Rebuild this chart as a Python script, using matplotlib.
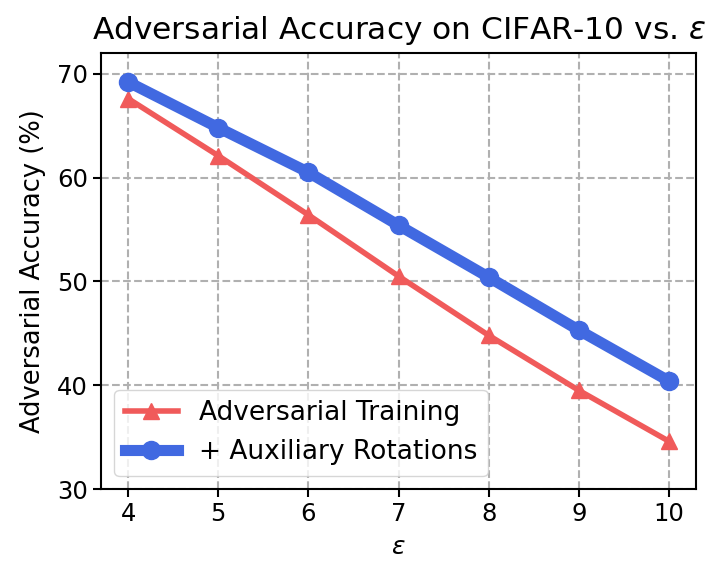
import matplotlib.pyplot as plt

# epsilon values and accuracies (%)
eps = [4, 5, 6, 7, 8, 9, 10]
adv_training = [67.6, 62.1, 56.4, 50.5, 44.8, 39.5, 34.6]
aux_rotations = [69.2, 64.8, 60.5, 55.4, 50.4, 45.3, 40.4]

fig, ax = plt.subplots(figsize=(7.12, 5.63), dpi=100)
fig.subplots_adjust(left=0.142, right=0.9775, top=0.906, bottom=0.1314)

ax.plot(eps, adv_training, '^-', color='#F05A5A', linewidth=4,
        markersize=12, label='Adversarial Training')
ax.plot(eps, aux_rotations, 'o-', color='#4169E1', linewidth=8,
        markersize=13, label='+ Auxiliary Rotations')

ax.set_xlim(3.7, 10.3)
ax.set_ylim(30, 72)
ax.set_xticks(eps)
ax.set_yticks([30, 40, 50, 60, 70])
ax.tick_params(labelsize=17.5, width=1.5, length=6)
for s in ax.spines.values():
    s.set_linewidth(1.5)

ax.grid(True, linestyle='--', color='#b0b0b0', linewidth=1.5)
ax.set_xlabel(r'$\epsilon$', fontsize=18, labelpad=6)
ax.set_ylabel('Adversarial Accuracy (%)', fontsize=18.5, labelpad=8)
ax.set_title(r'Adversarial Accuracy on CIFAR-10 vs. $\epsilon$', fontsize=22.5, pad=10)
ax.legend(loc='lower left', fontsize=19, handlelength=2.0)

plt.savefig('out.png', dpi=100)
